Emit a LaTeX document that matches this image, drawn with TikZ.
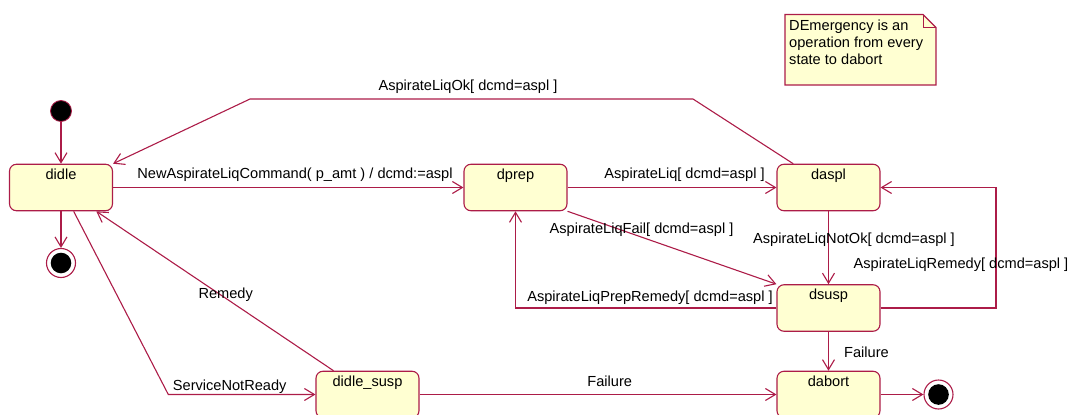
\documentclass[tikz,border=0pt]{standalone}
\usepackage{fontspec}
\setmainfont{Liberation Sans}
\usetikzlibrary{arrows.meta,calc}
\definecolor{umlline}{RGB}{172,28,72}
\definecolor{umlfill}{RGB}{255,255,210}
\begin{document}
\begin{tikzpicture}[x=1pt,y=-1pt,
  every node/.style={font=\fontsize{14.6}{17}\selectfont},
  state/.style={draw=umlline, fill=umlfill, rounded corners=7pt,
    minimum width=103pt, minimum height=46.5pt, inner sep=0pt, line width=1.1pt},
  stlabel/.style={anchor=north, inner sep=0pt, yshift=-5pt},
  initial/.style={circle, draw=umlline, fill=black, minimum size=21pt,
    inner sep=0pt, line width=0.8pt},
  final/.style={circle, draw=umlline, fill=white, minimum size=29pt,
    inner sep=0pt, line width=1.1pt,
    path picture={\fill[black] (path picture bounding box.center) circle (10.3pt);}},
  arr/.style={draw=umlline, line width=1.1pt,
    -{Straight Barb[length=10pt,width=12pt]}},
  lbl/.style={anchor=base, inner sep=0pt},
  note/.style={draw=umlline, fill=umlfill, line width=1.1pt}]

\useasboundingbox (0,0) rectangle (1071,415);

% comment note in the upper right corner
\draw[note] (785,14.5) -- (923,14.5) -- (936,27.5) -- (936,85) -- (785,85) -- cycle;
\draw[umlline, line width=0.8pt] (923,14.5) -- (923,27.5) -- (936,27.5);
\node[anchor=north west, inner sep=0pt, align=left] (notetext) at (789,19.6)
  {DEmergency is an\\operation from every\\state to dabort};

% pseudo states
\node[initial] (init) at (61,111) {};
\node[final] (fin1) at (61,263) {};
\node[final] (fin2) at (938.5,394.5) {};

% states
\node[state, label={[stlabel]north:didle}] (didle) at (61,187.5) {};
\node[state, label={[stlabel]north:dprep}] (dprep) at (515.5,187.5) {};
\node[state, label={[stlabel]north:daspl}] (daspl) at (828.5,187.5) {};
\node[state, label={[stlabel]north:dsusp}] (dsusp) at (828.5,308) {};
\node[state, label={[stlabel]north:dabort}] (dabort) at (828.5,394.5) {};
\node[state, label={[stlabel]north:didle\_susp}] (didlesusp) at (367.5,394.5) {};

% bend points
\coordinate (okR) at (693,99);
\coordinate (okL) at (250,99);
\coordinate (remR) at (996,308);
\coordinate (snr) at (168.3,394.5);

% transitions
\draw[arr] (init) -- (didle);
\draw[arr] (didle) -- (fin1);
\draw[arr] (didle) -- (dprep);
\draw[arr] (dprep) -- (daspl);
\draw[arr] (daspl.146.5) -- (okR) -- (okL) -- (didle.north east);
\draw[arr] (daspl) -- (dsusp);
\draw[arr] (dsusp.east) -- (remR) |- (daspl.east);
\draw[arr] (dsusp.west) -| (dprep.south);
\draw[arr] (dprep.south east) -- (dsusp.north west);
\draw[arr] (dsusp) -- (dabort);
\draw[arr] (dabort) -- (fin2);
\draw[arr] (didle.-62.4) -- (snr) -- (didlesusp.west);
\draw[arr] (didlesusp.145.7) -- (didle.-34.6);
\draw[arr] (didlesusp) -- (dabort);

% transition labels
\node[lbl] (l1) at (295,178) {NewAspirateLiqCommand( p\_amt ) / dcmd:=aspl};
\node[lbl] (l2) at (684.5,178) {AspirateLiq[ dcmd=aspl ]};
\node[lbl] (l3) at (468,90) {AspirateLiqOk[ dcmd=aspl ]};
\node[lbl] (l4) at (641.5,233) {AspirateLiqFail[ dcmd=aspl ]};
\node[lbl] (l5) at (854,243) {AspirateLiqNotOk[ dcmd=aspl ]};
\node[lbl] (l6) at (961,268) {AspirateLiqRemedy[ dcmd=aspl ]};
\node[lbl] (l7) at (650,301) {AspirateLiqPrepRemedy[ dcmd=aspl ]};
\node[lbl] (l8) at (866.5,357) {Failure};
\node[lbl] (l9) at (609.7,386) {Failure};
\node[lbl] (l10) at (225.7,298) {Remedy};
\node[lbl] (l11) at (229.7,390) {ServiceNotReady};
\end{tikzpicture}
\end{document}
